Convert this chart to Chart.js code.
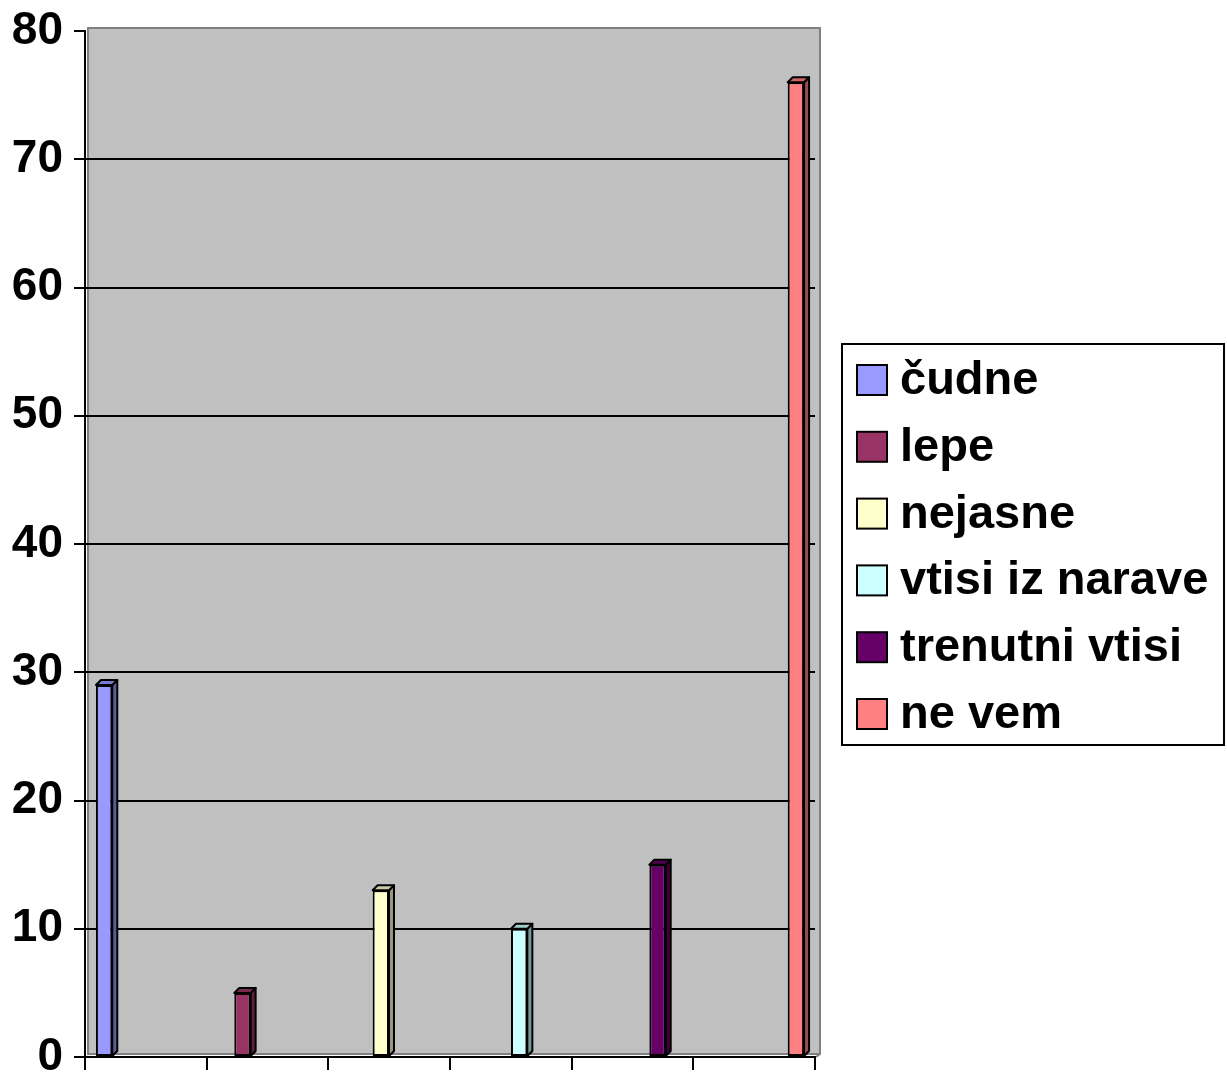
<!DOCTYPE html>
<html>
<head>
<meta charset="utf-8">
<script src="https://cdn.jsdelivr.net/npm/chart.js@4/dist/chart.umd.min.js"></script>
<style>
  html, body { margin: 0; padding: 0; background: #ffffff; }
  #wrap { width: 1227px; height: 1073px; }
</style>
</head>
<body>
<div id="wrap"><canvas id="c" width="1227" height="1073"></canvas></div>
<script>
const categories = ['', '', '', '', '', ''];
const seriesNames = ['čudne', 'lepe', 'nejasne', 'vtisi iz narave', 'trenutni vtisi', 'ne vem'];
const seriesValues = [29, 5, 13, 10, 15, 76];
const seriesColors = ['#9999FF', '#993366', '#FFFFCC', '#CCFFFF', '#660066', '#FF8080'];
const yTicks = [0, 10, 20, 30, 40, 50, 60, 70, 80];

const FONT = '"Liberation Sans", Arial, Helvetica, sans-serif';

function shade(hex, f) {
  const n = parseInt(hex.slice(1), 16);
  const r = Math.round(((n >> 16) & 255) * f);
  const g = Math.round(((n >> 8) & 255) * f);
  const b = Math.round((n & 255) * f);
  return 'rgb(' + r + ',' + g + ',' + b + ')';
}

const datasets = seriesNames.map((name, i) => ({
  label: name,
  data: categories.map((_, j) => (j === i ? seriesValues[i] : null)),
  backgroundColor: seriesColors[i],
  borderColor: '#000000',
  borderWidth: 2,
  borderSkipped: false,
  categoryPercentage: 0.823,
  barPercentage: 0.98
}));

const backdrop = {
  id: 'backdrop',
  beforeDraw(chart) {
    const { ctx, chartArea: a } = chart;
    ctx.save();
    ctx.fillStyle = '#C0C0C0';
    ctx.fillRect(a.left + 2, a.top - 4, a.right - a.left + 4, a.bottom - a.top + 1);
    ctx.strokeStyle = '#808080';
    ctx.lineWidth = 2;
    ctx.beginPath();
    ctx.moveTo(a.left + 2, a.top - 3);
    ctx.lineTo(a.right + 5, a.top - 3);
    ctx.lineTo(a.right + 5, a.bottom - 3);
    ctx.lineTo(a.right + 1, a.bottom);
    ctx.stroke();
    ctx.beginPath();
    ctx.moveTo(a.left + 4, a.bottom - 3);
    ctx.lineTo(a.right + 5, a.bottom - 3);
    ctx.stroke();
    ctx.beginPath();
    ctx.moveTo(a.left + 3, a.top - 3);
    ctx.lineTo(a.left + 3, a.bottom - 2);
    ctx.stroke();
    ctx.restore();
  }
};

const bars3d = {
  id: 'bars3d',
  afterDatasetsDraw(chart) {
    const { ctx } = chart;
    const d = 5;
    ctx.save();
    ctx.lineWidth = 2;
    ctx.strokeStyle = '#000';
    ctx.lineJoin = 'round';
    chart.data.datasets.forEach((ds, i) => {
      const meta = chart.getDatasetMeta(i);
      meta.data.forEach((el, j) => {
        if (ds.data[j] === null || ds.data[j] === undefined) return;
        const p = el.getProps(['x', 'y', 'base', 'width'], true);
        const l = p.x - p.width / 2, r = p.x + p.width / 2;
        ctx.fillStyle = shade(seriesColors[i], 0.6);
        ctx.beginPath();
        ctx.moveTo(r, p.y);
        ctx.lineTo(r + d, p.y - d);
        ctx.lineTo(r + d, p.base - d);
        ctx.lineTo(r, p.base);
        ctx.closePath();
        ctx.fill();
        ctx.stroke();
        ctx.fillStyle = shade(seriesColors[i], 0.8);
        ctx.beginPath();
        ctx.moveTo(l, p.y);
        ctx.lineTo(l + d, p.y - d);
        ctx.lineTo(r + d, p.y - d);
        ctx.lineTo(r, p.y);
        ctx.closePath();
        ctx.fill();
        ctx.stroke();
      });
    });
    ctx.restore();
  }
};

const boxLegend = {
  id: 'boxLegend',
  afterDraw(chart) {
    const { ctx } = chart;
    const bx = 842, by = 344, bw = 382, bh = 401;
    ctx.save();
    ctx.fillStyle = '#ffffff';
    ctx.fillRect(bx, by, bw, bh);
    ctx.strokeStyle = '#000';
    ctx.lineWidth = 2;
    ctx.strokeRect(bx, by, bw, bh);
    ctx.font = 'bold 47px ' + FONT;
    ctx.textBaseline = 'middle';
    ctx.textAlign = 'left';
    chart.data.datasets.forEach((ds, i) => {
      const cy = 380 + i * 66.8;
      ctx.fillStyle = ds.backgroundColor;
      ctx.fillRect(857, cy - 15, 30, 30);
      ctx.lineWidth = 2;
      ctx.strokeRect(857, cy - 15, 30, 30);
      ctx.fillStyle = '#000';
      ctx.fillText(ds.label, 900, cy + 1);
    });
    ctx.restore();
  }
};

new Chart(document.getElementById('c'), {
  type: 'bar',
  data: { labels: categories, datasets: datasets },
  plugins: [backdrop, bars3d, boxLegend],
  options: {
    responsive: false,
    animation: false,
    devicePixelRatio: 1,
    layout: { padding: { left: 0, right: 412, top: 31, bottom: 0 } },
    plugins: {
      legend: { display: false },
      tooltip: { enabled: false },
      title: { display: false }
    },
    scales: {
      x: {
        type: 'category',
        offset: true,
        grid: {
          display: true,
          offset: true,
          drawOnChartArea: false,
          drawTicks: true,
          tickLength: 13,
          tickColor: '#000',
          tickWidth: 2,
          color: '#000',
          lineWidth: 2
        },
        border: { display: true, color: '#000', width: 2 },
        ticks: { display: false },
        afterFit(scale) { scale.height = 16; scale.paddingLeft = 0; scale.paddingRight = 0; }
      },
      y: {
        min: 0,
        max: 80,
        afterBuildTicks(scale) { scale.ticks = yTicks.map(v => ({ value: v })); },
        grid: {
          color: (c) => (c.tick && c.tick.value === 80 ? 'rgba(0,0,0,0)' : '#000'),
          lineWidth: 2,
          tickColor: '#000',
          tickWidth: 2,
          tickLength: 11,
          drawTicks: true
        },
        border: { display: true, color: '#000', width: 2 },
        ticks: {
          color: '#000',
          padding: 11,
          font: { family: FONT, size: 46, weight: 'bold', lineHeight: 1 }
        },
        afterFit(scale) { scale.width = 85; scale.paddingTop = 0; scale.paddingBottom = 0; }
      }
    }
  }
});
</script>
</body>
</html>
